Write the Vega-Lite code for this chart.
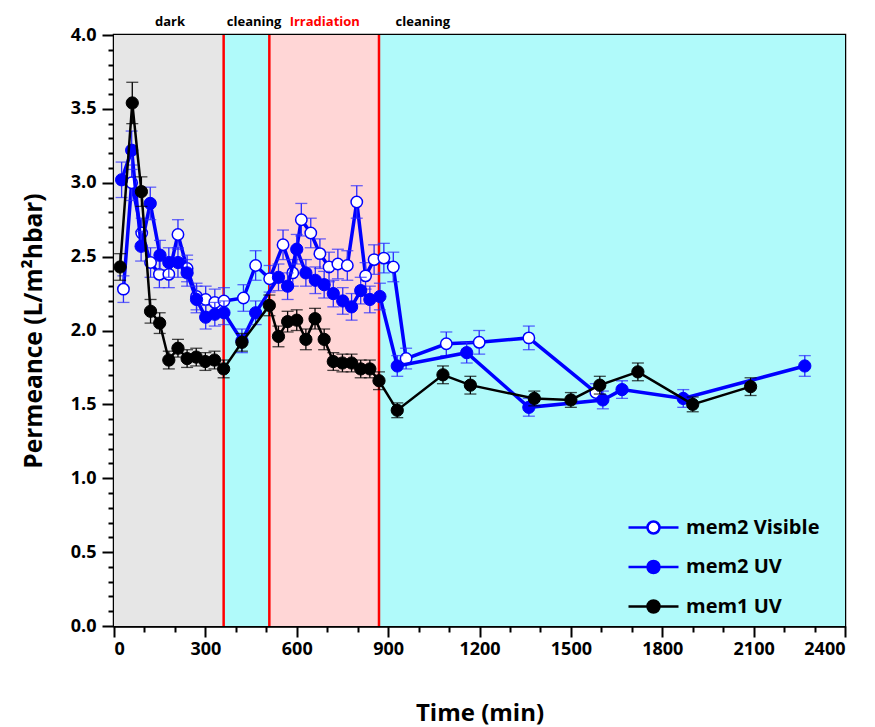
{
  "$schema": "https://vega.github.io/schema/vega-lite/v6.json",
  "width": 731,
  "height": 591,
  "autosize": "none",
  "padding": {"left": 114, "top": 35, "right": 30, "bottom": 101},
  "background": "white",
  "config": {
    "view": {"stroke": "black", "strokeWidth": 2.5},
    "font": "Open Sans",
    "axis": {
      "labelFont": "Open Sans", "labelFontSize": 18, "labelFontWeight": "bold", "labelColor": "black",
      "titleFont": "Open Sans", "titleFontSize": 24, "titleFontWeight": "bold", "titleColor": "black",
      "domainColor": "black", "domainWidth": 2.5, "tickColor": "black", "tickWidth": 2, "grid": false
    },
    "axisY": {"titleFontSize": 24.5},
    "legend": {
      "orient": "none", "legendX": 513, "legendY": 466, "padding": 0,
      "symbolType": "M-1,0L-0.24,0M0.24,0L1,0M-0.24,0A0.24,0.24 0 1,1 0.24,0A0.24,0.24 0 1,1 -0.24,0",
      "symbolSize": 2500, "symbolStrokeWidth": 2.5,
      "labelFont": "Open Sans", "labelFontSize": 20, "labelFontWeight": "bold", "labelColor": "black",
      "labelOffset": 6, "rowPadding": 1.5
    }
  },
  "resolve": {"axis": {"x": "independent", "y": "independent"}},
  "datasets": {
    "zones": [
      {"a": 0, "b": 360, "z": "dark"},
      {"a": 360, "b": 510, "z": "clean1"},
      {"a": 510, "b": 870, "z": "irr"},
      {"a": 870, "b": 2400, "z": "clean2"}
    ],
    "bounds": [{"t": 360}, {"t": 510}, {"t": 870}],
    "notes": [
      {"t": 184, "txt": "dark"},
      {"t": 460, "txt": "cleaning"},
      {"t": 692, "txt": "Irradiation"},
      {"t": 1014, "txt": "cleaning"}
    ],
    "pts": [
      {"s": "mem2 Visible", "t": 31, "v": 2.28, "e": 0.09},
      {"s": "mem2 Visible", "t": 58, "v": 3.0, "e": 0.12},
      {"s": "mem2 Visible", "t": 91, "v": 2.66, "e": 0.1},
      {"s": "mem2 Visible", "t": 120, "v": 2.46, "e": 0.1},
      {"s": "mem2 Visible", "t": 149, "v": 2.38, "e": 0.09},
      {"s": "mem2 Visible", "t": 180, "v": 2.38, "e": 0.09},
      {"s": "mem2 Visible", "t": 210, "v": 2.65, "e": 0.1},
      {"s": "mem2 Visible", "t": 240, "v": 2.42, "e": 0.09},
      {"s": "mem2 Visible", "t": 271, "v": 2.23, "e": 0.09},
      {"s": "mem2 Visible", "t": 301, "v": 2.21, "e": 0.09},
      {"s": "mem2 Visible", "t": 331, "v": 2.19, "e": 0.09},
      {"s": "mem2 Visible", "t": 361, "v": 2.2, "e": 0.09},
      {"s": "mem2 Visible", "t": 425, "v": 2.22, "e": 0.09},
      {"s": "mem2 Visible", "t": 465, "v": 2.44, "e": 0.1},
      {"s": "mem2 Visible", "t": 511, "v": 2.35, "e": 0.09},
      {"s": "mem2 Visible", "t": 555, "v": 2.58, "e": 0.1},
      {"s": "mem2 Visible", "t": 587, "v": 2.39, "e": 0.09},
      {"s": "mem2 Visible", "t": 615, "v": 2.75, "e": 0.11},
      {"s": "mem2 Visible", "t": 646, "v": 2.66, "e": 0.1},
      {"s": "mem2 Visible", "t": 676, "v": 2.52, "e": 0.1},
      {"s": "mem2 Visible", "t": 706, "v": 2.43, "e": 0.1},
      {"s": "mem2 Visible", "t": 735, "v": 2.45, "e": 0.1},
      {"s": "mem2 Visible", "t": 766, "v": 2.44, "e": 0.1},
      {"s": "mem2 Visible", "t": 797, "v": 2.87, "e": 0.11},
      {"s": "mem2 Visible", "t": 826, "v": 2.37, "e": 0.09},
      {"s": "mem2 Visible", "t": 854, "v": 2.48, "e": 0.1},
      {"s": "mem2 Visible", "t": 886, "v": 2.49, "e": 0.1},
      {"s": "mem2 Visible", "t": 917, "v": 2.43, "e": 0.1},
      {"s": "mem2 Visible", "t": 959, "v": 1.81, "e": 0.07},
      {"s": "mem2 Visible", "t": 1091, "v": 1.91, "e": 0.08},
      {"s": "mem2 Visible", "t": 1199, "v": 1.92, "e": 0.08},
      {"s": "mem2 Visible", "t": 1362, "v": 1.95, "e": 0.08},
      {"s": "mem2 Visible", "t": 1582, "v": 1.58, "e": 0.06},
      {"s": "mem2 UV", "t": 25, "v": 3.02, "e": 0.12},
      {"s": "mem2 UV", "t": 58, "v": 3.22, "e": 0.13},
      {"s": "mem2 UV", "t": 89, "v": 2.57, "e": 0.1},
      {"s": "mem2 UV", "t": 119, "v": 2.86, "e": 0.11},
      {"s": "mem2 UV", "t": 151, "v": 2.51, "e": 0.1},
      {"s": "mem2 UV", "t": 180, "v": 2.46, "e": 0.1},
      {"s": "mem2 UV", "t": 210, "v": 2.46, "e": 0.1},
      {"s": "mem2 UV", "t": 240, "v": 2.39, "e": 0.09},
      {"s": "mem2 UV", "t": 271, "v": 2.21, "e": 0.09},
      {"s": "mem2 UV", "t": 301, "v": 2.09, "e": 0.08},
      {"s": "mem2 UV", "t": 331, "v": 2.11, "e": 0.08},
      {"s": "mem2 UV", "t": 361, "v": 2.12, "e": 0.08},
      {"s": "mem2 UV", "t": 420, "v": 1.93, "e": 0.08},
      {"s": "mem2 UV", "t": 465, "v": 2.12, "e": 0.08},
      {"s": "mem2 UV", "t": 540, "v": 2.36, "e": 0.09},
      {"s": "mem2 UV", "t": 570, "v": 2.3, "e": 0.09},
      {"s": "mem2 UV", "t": 600, "v": 2.55, "e": 0.1},
      {"s": "mem2 UV", "t": 630, "v": 2.39, "e": 0.09},
      {"s": "mem2 UV", "t": 661, "v": 2.34, "e": 0.09},
      {"s": "mem2 UV", "t": 690, "v": 2.31, "e": 0.09},
      {"s": "mem2 UV", "t": 720, "v": 2.25, "e": 0.09},
      {"s": "mem2 UV", "t": 751, "v": 2.2, "e": 0.09},
      {"s": "mem2 UV", "t": 780, "v": 2.16, "e": 0.09},
      {"s": "mem2 UV", "t": 810, "v": 2.27, "e": 0.09},
      {"s": "mem2 UV", "t": 840, "v": 2.21, "e": 0.09},
      {"s": "mem2 UV", "t": 873, "v": 2.23, "e": 0.09},
      {"s": "mem2 UV", "t": 930, "v": 1.76, "e": 0.07},
      {"s": "mem2 UV", "t": 1158, "v": 1.85, "e": 0.07},
      {"s": "mem2 UV", "t": 1362, "v": 1.48, "e": 0.06},
      {"s": "mem2 UV", "t": 1605, "v": 1.53, "e": 0.06},
      {"s": "mem2 UV", "t": 1668, "v": 1.6, "e": 0.06},
      {"s": "mem2 UV", "t": 1869, "v": 1.54, "e": 0.06},
      {"s": "mem2 UV", "t": 2268, "v": 1.76, "e": 0.07},
      {"s": "mem1 UV", "t": 20, "v": 2.43, "e": 0.09},
      {"s": "mem1 UV", "t": 60, "v": 3.54, "e": 0.14},
      {"s": "mem1 UV", "t": 90, "v": 2.94, "e": 0.1},
      {"s": "mem1 UV", "t": 120, "v": 2.13, "e": 0.08},
      {"s": "mem1 UV", "t": 150, "v": 2.05, "e": 0.07},
      {"s": "mem1 UV", "t": 180, "v": 1.8, "e": 0.06},
      {"s": "mem1 UV", "t": 210, "v": 1.88, "e": 0.06},
      {"s": "mem1 UV", "t": 240, "v": 1.81, "e": 0.06},
      {"s": "mem1 UV", "t": 270, "v": 1.82, "e": 0.06},
      {"s": "mem1 UV", "t": 300, "v": 1.79, "e": 0.06},
      {"s": "mem1 UV", "t": 330, "v": 1.8, "e": 0.06},
      {"s": "mem1 UV", "t": 360, "v": 1.74, "e": 0.06},
      {"s": "mem1 UV", "t": 420, "v": 1.92, "e": 0.06},
      {"s": "mem1 UV", "t": 510, "v": 2.17, "e": 0.07},
      {"s": "mem1 UV", "t": 540, "v": 1.96, "e": 0.07},
      {"s": "mem1 UV", "t": 570, "v": 2.06, "e": 0.07},
      {"s": "mem1 UV", "t": 600, "v": 2.07, "e": 0.07},
      {"s": "mem1 UV", "t": 630, "v": 1.94, "e": 0.07},
      {"s": "mem1 UV", "t": 660, "v": 2.08, "e": 0.07},
      {"s": "mem1 UV", "t": 690, "v": 1.94, "e": 0.07},
      {"s": "mem1 UV", "t": 720, "v": 1.79, "e": 0.06},
      {"s": "mem1 UV", "t": 750, "v": 1.78, "e": 0.06},
      {"s": "mem1 UV", "t": 780, "v": 1.78, "e": 0.06},
      {"s": "mem1 UV", "t": 810, "v": 1.74, "e": 0.06},
      {"s": "mem1 UV", "t": 840, "v": 1.74, "e": 0.06},
      {"s": "mem1 UV", "t": 870, "v": 1.66, "e": 0.06},
      {"s": "mem1 UV", "t": 930, "v": 1.46, "e": 0.05},
      {"s": "mem1 UV", "t": 1080, "v": 1.7, "e": 0.06},
      {"s": "mem1 UV", "t": 1170, "v": 1.63, "e": 0.06},
      {"s": "mem1 UV", "t": 1380, "v": 1.54, "e": 0.05},
      {"s": "mem1 UV", "t": 1500, "v": 1.53, "e": 0.05},
      {"s": "mem1 UV", "t": 1595, "v": 1.63, "e": 0.06},
      {"s": "mem1 UV", "t": 1720, "v": 1.72, "e": 0.06},
      {"s": "mem1 UV", "t": 1900, "v": 1.5, "e": 0.05},
      {"s": "mem1 UV", "t": 2090, "v": 1.62, "e": 0.06}
    ]
  },
  "layer": [
    {
      "data": {"name": "zones"},
      "mark": {"type": "rect"},
      "encoding": {
        "x": {
          "field": "a", "type": "quantitative", "title": "Time (min)",
          "scale": {"domain": [0, 2400], "nice": false, "zero": false},
          "axis": {
            "orient": "bottom",
            "values": [0, 300, 600, 900, 1200, 1500, 1800, 2100, 2400],
            "format": "d",
            "tickSize": 11,
            "labelPadding": 3,
            "titlePadding": 43
          }
        },
        "x2": {"field": "b"},
        "color": {
          "field": "z", "type": "nominal",
          "scale": {"domain": ["dark", "clean1", "irr", "clean2"], "range": ["#e6e6e6", "#b0fafa", "#ffd6d6", "#b0fafa"]},
          "legend": null
        }
      }
    },
    {
      "data": {"name": "bounds"},
      "mark": {"type": "rule", "color": "#ff0000", "strokeWidth": 2.5},
      "encoding": {
        "x": {
          "field": "t", "type": "quantitative",
          "axis": {
            "orient": "bottom", "title": null, "labels": false, "domain": false, "tickSize": 6,
            "values": [100, 200, 400, 500, 700, 800, 1000, 1100, 1300, 1400, 1600, 1700, 1900, 2000, 2200, 2300]
          }
        }
      }
    },
    {
      "data": {"name": "pts"},
      "transform": [{"filter": "datum.s === 'mem2 Visible'"}],
      "resolve": {"axis": {"x": "independent", "y": "independent"}},
      "layer": [
        {
          "mark": {"type": "line", "color": "#0000ff", "strokeWidth": 3.5},
          "encoding": {
            "x": {"field": "t", "type": "quantitative", "axis": null},
            "y": {
              "field": "v", "type": "quantitative", "title": "Permeance (L/m²hbar)",
              "scale": {"domain": [0, 4], "nice": false},
              "axis": {
                "orient": "left",
                "values": [0, 0.5, 1, 1.5, 2, 2.5, 3, 3.5, 4],
                "format": ".1f",
                "tickSize": 12,
                "labelPadding": 6,
                "titlePadding": 24
              }
            },
            "order": {"field": "t"}
          }
        },
        {
          "mark": {"type": "errorbar", "color": "#2a2aff", "ticks": true, "size": 12, "thickness": 1.3},
          "encoding": {
            "x": {"field": "t", "type": "quantitative", "axis": null},
            "y": {"field": "v", "type": "quantitative", "axis": null},
            "yError": {"field": "e"}
          }
        },
        {
          "mark": {"type": "circle", "size": 130, "strokeWidth": 1.5, "opacity": 1},
          "encoding": {
            "x": {"field": "t", "type": "quantitative", "axis": null},
            "y": {"field": "v", "type": "quantitative", "axis": null},
            "fill": {"field": "s", "type": "nominal", "scale": {"domain": ["mem2 Visible", "mem2 UV", "mem1 UV"], "range": ["#ffffff", "#0000ff", "#000000"]}, "legend": {"title": null}},
            "stroke": {"field": "s", "type": "nominal", "scale": {"domain": ["mem2 Visible", "mem2 UV", "mem1 UV"], "range": ["#0000ff", "#0000ff", "#000000"]}, "legend": {"title": null}}
          }
        }
      ]
    },
    {
      "data": {"name": "pts"},
      "transform": [{"filter": "datum.s === 'mem2 UV'"}],
      "resolve": {"axis": {"x": "independent", "y": "independent"}},
      "layer": [
        {
          "mark": {"type": "line", "color": "#0000ff", "strokeWidth": 3.5},
          "encoding": {
            "x": {"field": "t", "type": "quantitative", "axis": null},
            "y": {"field": "v", "type": "quantitative", "axis": null},
            "order": {"field": "t"}
          }
        },
        {
          "mark": {"type": "errorbar", "color": "#2a2aff", "ticks": true, "size": 12, "thickness": 1.3},
          "encoding": {
            "x": {"field": "t", "type": "quantitative", "axis": null},
            "y": {"field": "v", "type": "quantitative", "axis": null},
            "yError": {"field": "e"}
          }
        },
        {
          "mark": {"type": "circle", "size": 150, "strokeWidth": 1, "opacity": 1},
          "encoding": {
            "x": {"field": "t", "type": "quantitative", "axis": null},
            "y": {"field": "v", "type": "quantitative", "axis": null},
            "fill": {"field": "s", "type": "nominal", "legend": {"title": null}},
            "stroke": {"field": "s", "type": "nominal", "legend": {"title": null}}
          }
        }
      ]
    },
    {
      "data": {"name": "pts"},
      "transform": [{"filter": "datum.s === 'mem1 UV'"}],
      "resolve": {"axis": {"x": "independent", "y": "independent"}},
      "layer": [
        {
          "mark": {"type": "line", "color": "#000000", "strokeWidth": 2.5},
          "encoding": {
            "x": {"field": "t", "type": "quantitative", "axis": null},
            "y": {"field": "v", "type": "quantitative", "axis": null},
            "order": {"field": "t"}
          }
        },
        {
          "mark": {"type": "errorbar", "color": "#000000", "ticks": true, "size": 12, "thickness": 1.3},
          "encoding": {
            "x": {"field": "t", "type": "quantitative", "axis": null},
            "y": {"field": "v", "type": "quantitative", "axis": null},
            "yError": {"field": "e"}
          }
        },
        {
          "mark": {"type": "circle", "size": 150, "strokeWidth": 1, "opacity": 1},
          "encoding": {
            "x": {"field": "t", "type": "quantitative", "axis": null},
            "y": {"field": "v", "type": "quantitative", "axis": null},
            "fill": {"field": "s", "type": "nominal", "legend": {"title": null}},
            "stroke": {"field": "s", "type": "nominal", "legend": {"title": null}}
          }
        }
      ]
    },
    {
      "data": {"name": "notes"},
      "mark": {"type": "text", "font": "Open Sans", "fontSize": 13, "fontWeight": "bold", "baseline": "middle", "align": "center"},
      "encoding": {
        "x": {"field": "t", "type": "quantitative", "axis": null},
        "y": {
          "datum": 4.085, "type": "quantitative",
          "axis": {
            "orient": "left", "title": null, "labels": false, "domain": false, "tickSize": 6,
            "values": [0.1, 0.2, 0.3, 0.4, 0.6, 0.7, 0.8, 0.9, 1.1, 1.2, 1.3, 1.4, 1.6, 1.7, 1.8, 1.9, 2.1, 2.2, 2.3, 2.4, 2.6, 2.7, 2.8, 2.9, 3.1, 3.2, 3.3, 3.4, 3.6, 3.7, 3.8, 3.9]
          }
        },
        "text": {"field": "txt"},
        "color": {"condition": {"test": "datum.txt === 'Irradiation'", "value": "#ff0000"}, "value": "black"}
      }
    }
  ]
}
